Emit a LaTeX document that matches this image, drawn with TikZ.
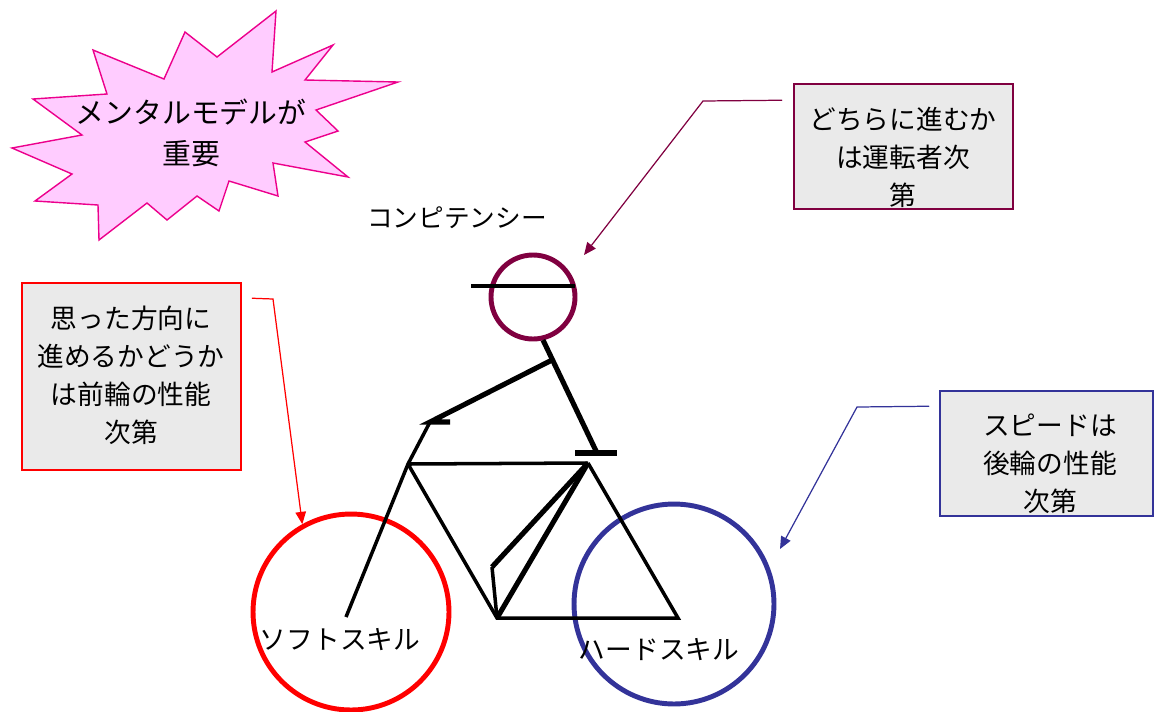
\documentclass[tikz,border=0pt]{standalone}
\usepackage{fontspec}
\setmainfont{Noto Sans CJK JP}
\usetikzlibrary{calc,arrows.meta}
\definecolor{riderred}{RGB}{128,0,64}
\definecolor{wheelblue}{RGB}{51,51,153}
\definecolor{burstpink}{RGB}{255,204,255}
\definecolor{boxgray}{RGB}{234,234,234}

\begin{document}
\begin{tikzpicture}[x=0.02cm,y=-0.02cm,
  note/.style={draw,fill=boxgray,line width=0.9pt,inner sep=0pt},
  notetext/.style={align=center,font=\fontsize{15.2}{21.6}\selectfont},
  frame/.style={line width=2pt},
  body/.style={line width=2.9pt},
  pointer/.style={line width=0.7pt,-{Triangle[length=7pt,width=6pt]}}]
\useasboundingbox (0,0) rectangle (1155,711);

% burst in the upper left
\draw[draw=magenta,fill=burstpink,line width=0.8pt]
  (276,11) -- (272,72) -- (333,45) -- (305,80) -- (398,82) -- (316,110)
  -- (338,131) -- (305,142) -- (348,177) -- (273,163) -- (278,196)
  -- (229,181) -- (219,211) -- (197,196) -- (167,220) -- (147,203)
  -- (99,240) -- (98,205) -- (35,201) -- (72,174) -- (12,148) -- (82,135)
  -- (33,99) -- (107,94) -- (93,50) -- (164,79) -- (185,32) -- (217,57)
  -- cycle;
\node[notetext,font=\fontsize{16.4}{23.5}\selectfont] (mental) at (191,133) {メンタルモデルが\\重要};

% wheels
\node[draw=red,line width=2.8pt,circle,minimum size=3.92cm] (frontwheel) at (351,612) {};
\node[draw=wheelblue,line width=2.8pt,circle,minimum size=4cm] (rearwheel) at (674,604) {};
\node[notetext] (soft) at (340,640) {ソフトスキル};
\node[notetext] (hard) at (659,650) {ハードスキル};

% bicycle frame
\coordinate (hub) at (346,617);
\coordinate (hand) at (430,422);
\coordinate (stem) at (408,464);
\coordinate (saddle) at (588,463);
\coordinate (crank) at (497,618);
\coordinate (rearhub) at (678,618);
\coordinate (knee) at (492,567);
\draw[frame] (hand) -- (stem) -- (hub);
\draw[frame] (stem) -- (saddle);
\draw[frame] (stem) -- (crank) -- (rearhub) -- (saddle);
\draw[body] (saddle) -- (crank);
\draw[body] (saddle) -- (knee);
\draw[frame] (knee) -- (crank);

% rider
\draw[riderred,line width=2.8pt] (533,297) circle (42);
\node[notetext,font=\fontsize{14.6}{20}\selectfont] (comp) at (457,218) {コンピテンシー};
\draw[frame] (471,286) -- (575,286);
\draw[body] (543,340) -- (597,453);
\draw[body] (552,360) -- (hand) -- (450,422);
\draw[body] (575,453) -- (617,453);

% notes
\node[note,draw=red,minimum width=4.38cm,minimum height=3.74cm] (frontbox) at (131.5,376.5) {};
\node[notetext] (fronttext) at (131,375) {思った方向に\\進めるかどうか\\は前輪の性能\\次第};
\node[note,draw=riderred,minimum width=4.38cm,minimum height=2.5cm] (riderbox) at (903.5,146.5) {};
\node[notetext] (ridertext) at (903,157) {どちらに進むか\\は運転者次\\第};
\node[note,draw=wheelblue,minimum width=4.26cm,minimum height=2.5cm] (rearbox) at (1046.5,453.5) {};
\node[notetext] (reartext) at (1050,464) {スピードは\\後輪の性能\\次第};

% pointers
\coordinate (headtip) at (584,255);
\coordinate (reartip) at (780,549);
\draw[pointer,red] ($(frontbox.north east)+(10,16)$) -- (273,299) -- (frontwheel.119);
\draw[pointer,riderred] ($(riderbox.north west)+(-11,17)$) -- (703,101) -- (headtip);
\draw[pointer,wheelblue] ($(rearbox.north west)+(-10,16)$) -- (857,407) -- (reartip);
\end{tikzpicture}
\end{document}
